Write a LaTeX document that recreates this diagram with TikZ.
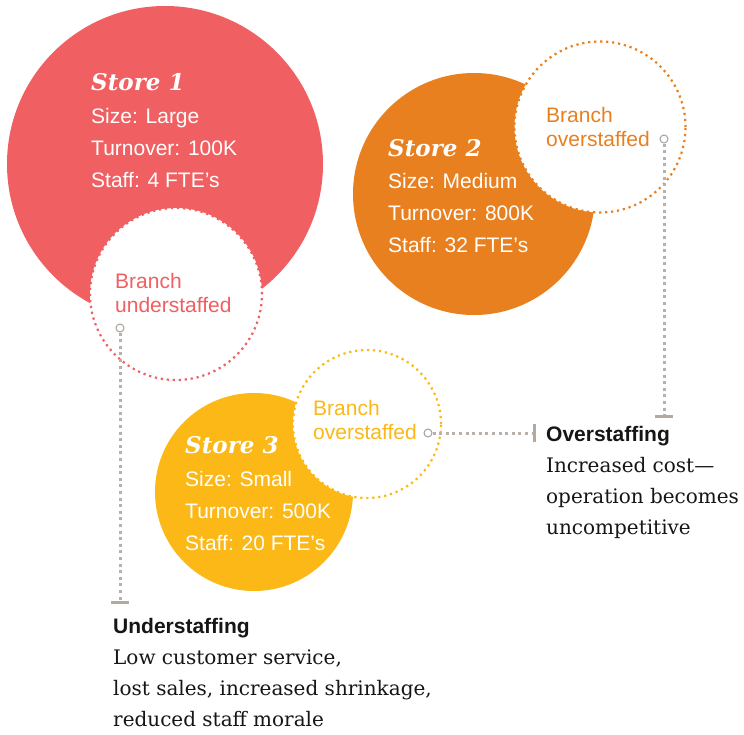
\documentclass[tikz,border=0pt]{standalone}
\usepackage{fontspec}
\setmainfont{DejaVu Serif}
\newfontfamily\labelsans{Liberation Sans}

\definecolor{storered}{HTML}{F05F61}
\definecolor{storeorange}{HTML}{E88020}
\definecolor{storeyellow}{HTML}{FBB817}
\definecolor{leader}{HTML}{B9B1A9}
\definecolor{leaderbar}{HTML}{B3A99F}
\definecolor{leaderdot}{HTML}{A8A09A}
\definecolor{ink}{HTML}{161616}

\tikzset{
  store/.style={circle, inner sep=0pt, draw=none},
  branch/.style={circle, inner sep=0pt, fill=white, line width=2.2pt,
                 dash pattern=on 2.2pt off 3.8pt},
  storetitle/.style={anchor=base west, inner sep=0pt, text=white,
                     font=\fontsize{23}{23}\selectfont\bfseries\itshape},
  fact/.style={anchor=base west, inner sep=0pt, text=white,
               font=\labelsans\fontsize{21}{21}\selectfont},
  branchtext/.style={anchor=base west, inner sep=0pt,
                     font=\labelsans\fontsize{21}{21}\selectfont},
  heading/.style={anchor=base west, inner sep=0pt, text=ink,
                  font=\labelsans\bfseries\fontsize{21}{21}\selectfont},
  bodytext/.style={anchor=base west, inner sep=0pt, text=ink,
                   font=\fontsize{20}{20}\selectfont},
  enddot/.style={circle, inner sep=0pt, minimum size=8pt, draw=leaderdot,
                 line width=1pt, fill=white},
  leaderline/.style={leader, line width=3pt, dash pattern=on 3pt off 3.6pt},
  endbar/.style={leaderbar, line width=3pt}
}

\begin{document}
\begin{tikzpicture}[x=1pt, y=-1pt]
\useasboundingbox[fill=white] (0,0) rectangle (744,734);

% Store 1 with its understaffed branch
\node[store, fill=storered, minimum size=316pt] (s1) at (165,164) {};
\node[branch, draw=storered, minimum size=172pt] (c1) at (176,294) {};
\node[storetitle] (t1) at (91,90) {Store 1};
\node[fact] (t1a) at (91,123) {Size: Large};
\node[fact] (t1b) at (91,155) {Turnover: 100K};
\node[fact] (t1c) at (91,187) {Staff: 4 FTE’s};
\node[branchtext, text=storered] (l1a) at (115,288) {Branch};
\node[branchtext, text=storered] (l1b) at (115,312) {understaffed};

% Store 2 with its overstaffed branch
\node[store, fill=storeorange, minimum size=242pt] (s2) at (474,194) {};
\node[branch, draw=storeorange, minimum size=171pt] (c2) at (600,127) {};
\node[storetitle] (t2) at (388,156) {Store 2};
\node[fact] (t2a) at (388,188) {Size: Medium};
\node[fact] (t2b) at (388,220) {Turnover: 800K};
\node[fact] (t2c) at (388,252) {Staff: 32 FTE’s};
\node[branchtext, text=storeorange] (l2a) at (546,122) {Branch};
\node[branchtext, text=storeorange] (l2b) at (546,146) {overstaffed};

% Store 3 with its overstaffed branch
\node[store, fill=storeyellow, minimum size=198pt] (s3) at (254,492) {};
\node[branch, draw=storeyellow, minimum size=148pt] (c3) at (367,424) {};
\node[storetitle] (t3) at (185,453) {Store 3};
\node[fact] (t3a) at (185,486) {Size: Small};
\node[fact] (t3b) at (185,518) {Turnover: 500K};
\node[fact] (t3c) at (185,550) {Staff: 20 FTE’s};
\node[branchtext, text=storeyellow] (l3a) at (313,415) {Branch};
\node[branchtext, text=storeyellow] (l3b) at (313,439) {overstaffed};

% Leader lines
\coordinate (b1) at (120,602);
\coordinate (b2) at (664,416);
\coordinate (b3) at (534,433);
\node[enddot] (d1) at (120,328) {};
\node[enddot] (d2) at (664,139) {};
\node[enddot] (d3) at (428,433) {};
\draw[leaderline] (d1) -- (b1);
\draw[leaderline] (d2) -- (b2);
\draw[leaderline] (d3) -- (b3);
\draw[endbar] ([xshift=-9pt]b1) -- ([xshift=9pt]b1);
\draw[endbar] ([xshift=-9pt]b2) -- ([xshift=9pt]b2);
\draw[endbar] ([yshift=-9pt]b3) -- ([yshift=9pt]b3);

% Explanations
\node[heading] (under) at (113,633) {Understaffing};
\node[bodytext] (under1) at (113,664) {Low customer service,};
\node[bodytext] (under2) at (113,695) {lost sales, increased shrinkage,};
\node[bodytext] (under3) at (113,726) {reduced staff morale};

\node[heading] (over) at (546,441) {Overstaffing};
\node[bodytext] (over1) at (546,472) {Increased cost—};
\node[bodytext] (over2) at (546,503) {operation becomes};
\node[bodytext] (over3) at (546,534) {uncompetitive};
\end{tikzpicture}
\end{document}
